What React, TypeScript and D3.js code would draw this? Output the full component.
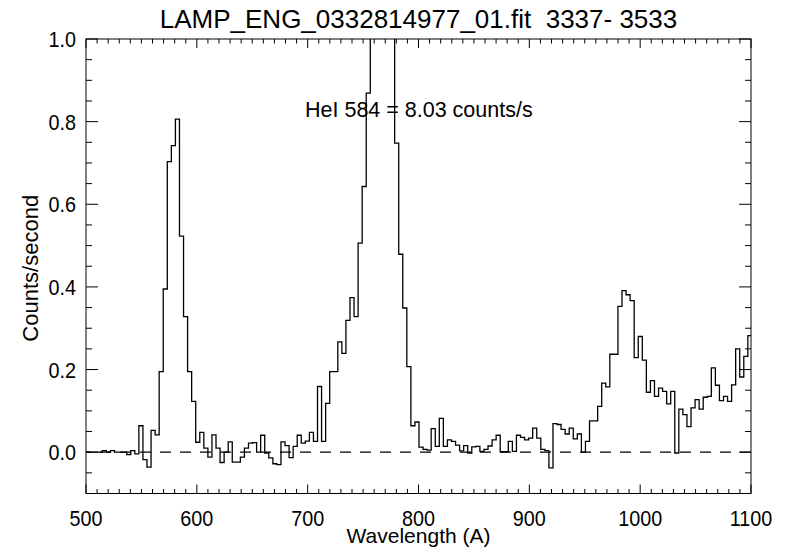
import React from 'react';
import * as d3 from 'd3';

// ---- chart content -------------------------------------------------------
const TITLE = 'LAMP_ENG_0332814977_01.fit  3337- 3533';
const X_LABEL = 'Wavelength (A)';
const Y_LABEL = 'Counts/second';
const NOTE = 'HeI 584 = 8.03 counts/s';

// Spectrum binning (Angstrom): left edge of the first bin and bin width
const BIN_START = 500.09;
const BIN_WIDTH = 3.663;

// Count rate per wavelength bin (counts/second)
const COUNTS = [
  0, 0, 0, 0, 0.004, 0, 0.004, 0, 0, 0,
  -0.006, 0.004, -0.004, 0.064, -0.018, -0.036, 0.053, 0.042, 0.195, 0.395,
  0.703, 0.742, 0.806, 0.523, 0.328, 0.195, 0.123, 0.024, 0.048, 0.01,
  -0.012, 0.042, 0.01, -0.025, 0, 0.025, -0.024, -0.024, -0.012, 0.01,
  0.022, 0.023, 0, 0.041, -0.002, -0.014, -0.028, -0.03, 0.025, 0.016,
  -0.013, 0.014, 0.041, 0.022, 0.027, 0.048, 0.026, 0.159, 0.026, 0.118,
  0.195, 0.195, 0.267, 0.239, 0.319, 0.374, 0.328, 0.506, 0.643, 0.869,
  1.35, 2.4, 3.0, 2.7, 1.9, 1.15, 0.748, 0.479, 0.349, 0.207,
  0.064, 0.073, 0.012, 0.007, 0.005, 0.057, 0.014, 0.082, 0.014, 0.03,
  0.026, 0.017, 0.003, 0.016, -0.002, 0.013, 0.014, 0.002, 0.007, 0.015,
  0.03, 0.041, 0.001, 0.001, 0.026, 0.002, 0.041, 0.036, 0.03, 0.034,
  0.058, 0.034, 0.007, 0.004, -0.038, 0.069, 0.067, 0.055, 0.044, 0.058,
  0.032, 0.044, 0, 0.026, 0.076, 0.076, 0.111, 0.167, 0.158, 0.237,
  0.237, 0.353, 0.391, 0.381, 0.367, 0.229, 0.28, 0.223, 0.145, 0.173,
  0.135, 0.155, 0.147, 0.117, 0.147, -0.002, 0.104, 0.091, 0.062, 0.107,
  0.127, 0.104, 0.133, 0.135, 0.204, 0.162, 0.125, 0.135, 0.123, 0.163,
  0.25, 0.182, 0.232, 0.282,
];

const X_TICKS = [500, 600, 700, 800, 900, 1000, 1100];
const X_TICK_LABELS = ['500', '600', '700', '800', '900', '1000', '1100'];
const Y_TICKS = [0, 0.2, 0.4, 0.6, 0.8, 1.0];
const Y_TICK_LABELS = ['0.0', '0.2', '0.4', '0.6', '0.8', '1.0'];
const X_DOMAIN: [number, number] = [500, 1100];
const Y_DOMAIN: [number, number] = [-0.1, 1.0];
const X_MINOR_STEP = 10;
const Y_MINOR_STEP = 0.05;

// ---- layout ----------------------------------------------------------------
const W = 790;
const H = 547;
const PLOT = { left: 86, right: 751, top: 39, bottom: 493.5 };
const FONT = '"Liberation Sans", Arial, Helvetica, sans-serif';
const X_MAJOR_LEN = 9;
const X_MINOR_LEN = 4.5;
const Y_MAJOR_LEN = 12;
const Y_MINOR_LEN = 6;

type TxtProps = {
  x: number;
  y: number;
  size: number;
  sx?: number;
  anchor?: 'start' | 'middle' | 'end';
  rotate?: number;
  children: React.ReactNode;
};

function Txt({ x, y, size, sx = 1, anchor = 'middle', rotate = 0, children }: TxtProps) {
  return (
    <text
      transform={`translate(${x},${y}) rotate(${rotate}) scale(${sx},1)`}
      textAnchor={anchor}
      fontFamily={FONT}
      fontSize={size}
      fill="#000"
      style={{ whiteSpace: 'pre' }}
    >
      {children}
    </text>
  );
}

export default function App() {
  const x = d3.scaleLinear().domain(X_DOMAIN).range([PLOT.left, PLOT.right]);
  const y = d3.scaleLinear().domain(Y_DOMAIN).range([PLOT.bottom, PLOT.top]);

  // Histogram outline: step after each bin edge, closing at the last bin's right edge
  const edges = COUNTS.map((v, i) => [BIN_START + i * BIN_WIDTH, v] as [number, number]);
  edges.push([BIN_START + COUNTS.length * BIN_WIDTH, COUNTS[COUNTS.length - 1]]);
  const stepLine = d3
    .line<[number, number]>()
    .x((d) => x(d[0]))
    .y((d) => y(d[1]))
    .curve(d3.curveStepAfter);

  const xMinor = d3
    .range(X_DOMAIN[0], X_DOMAIN[1] + 0.001, X_MINOR_STEP)
    .filter((v) => !X_TICKS.some((t) => Math.abs(t - v) < 1e-6));
  const yMinor = d3
    .range(Y_DOMAIN[0], Y_DOMAIN[1] + 1e-6, Y_MINOR_STEP)
    .map((v) => Math.round(v * 100) / 100)
    .filter((v) => !Y_TICKS.some((t) => Math.abs(t - v) < 1e-6));

  const plotW = PLOT.right - PLOT.left;
  const plotH = PLOT.bottom - PLOT.top;

  return (
    <svg
      width={W}
      height={H}
      viewBox={`0 0 ${W} ${H}`}
      style={{ position: 'absolute', left: 0, top: 0, background: '#fff' }}
    >
      <defs>
        <clipPath id="plot-clip">
          <rect x={PLOT.left} y={PLOT.top} width={plotW} height={plotH} />
        </clipPath>
      </defs>
      <rect x={0} y={0} width={W} height={H} fill="#fff" />

      {/* title */}
      <Txt x={(PLOT.left + PLOT.right) / 2} y={28} size={26}>
        {TITLE}
      </Txt>

      {/* zero reference */}
      <line
        x1={PLOT.left}
        x2={PLOT.right}
        y1={y(0)}
        y2={y(0)}
        stroke="#000"
        strokeWidth={1.2}
        strokeDasharray="11,9"
        strokeDashoffset={6}
      />

      {/* spectrum */}
      <g clipPath="url(#plot-clip)">
        <path d={stepLine(edges) || ''} fill="none" stroke="#000" strokeWidth={1.3} />
      </g>

      {/* frame */}
      <rect
        x={PLOT.left}
        y={PLOT.top}
        width={plotW}
        height={plotH}
        fill="none"
        stroke="#000"
        strokeWidth={1}
      />

      {/* x ticks, bottom and top, pointing inward */}
      <g stroke="#000" strokeWidth={1}>
        {X_TICKS.map((t) => (
          <g key={`xM${t}`}>
            <line x1={x(t)} x2={x(t)} y1={PLOT.bottom} y2={PLOT.bottom - X_MAJOR_LEN} />
            <line x1={x(t)} x2={x(t)} y1={PLOT.top} y2={PLOT.top + X_MAJOR_LEN} />
          </g>
        ))}
        {xMinor.map((t) => (
          <g key={`xm${t}`}>
            <line x1={x(t)} x2={x(t)} y1={PLOT.bottom} y2={PLOT.bottom - X_MINOR_LEN} />
            <line x1={x(t)} x2={x(t)} y1={PLOT.top} y2={PLOT.top + X_MINOR_LEN} />
          </g>
        ))}
        {Y_TICKS.map((t) => (
          <g key={`yM${t}`}>
            <line x1={PLOT.left} x2={PLOT.left + Y_MAJOR_LEN} y1={y(t)} y2={y(t)} />
            <line x1={PLOT.right} x2={PLOT.right - Y_MAJOR_LEN} y1={y(t)} y2={y(t)} />
          </g>
        ))}
        {yMinor.map((t) => (
          <g key={`ym${t}`}>
            <line x1={PLOT.left} x2={PLOT.left + Y_MINOR_LEN} y1={y(t)} y2={y(t)} />
            <line x1={PLOT.right} x2={PLOT.right - Y_MINOR_LEN} y1={y(t)} y2={y(t)} />
          </g>
        ))}
      </g>

      {/* tick labels */}
      {X_TICKS.map((t, i) => (
        <Txt key={`xl${t}`} x={x(t)} y={526} size={22} sx={0.9}>
          {X_TICK_LABELS[i]}
        </Txt>
      ))}
      {Y_TICKS.map((t, i) => (
        <Txt key={`yl${t}`} x={76} y={y(t) + 8} size={22} sx={0.9} anchor="end">
          {Y_TICK_LABELS[i]}
        </Txt>
      ))}

      {/* axis titles */}
      <Txt x={(PLOT.left + PLOT.right) / 2} y={543} size={21}>
        {X_LABEL}
      </Txt>
      <Txt x={38} y={(PLOT.top + PLOT.bottom) / 2 + 2} size={22} rotate={-90}>
        {Y_LABEL}
      </Txt>

      {/* line-flux annotation */}
      <Txt x={305} y={117} size={21.5} anchor="start">
        {NOTE}
      </Txt>
    </svg>
  );
}
